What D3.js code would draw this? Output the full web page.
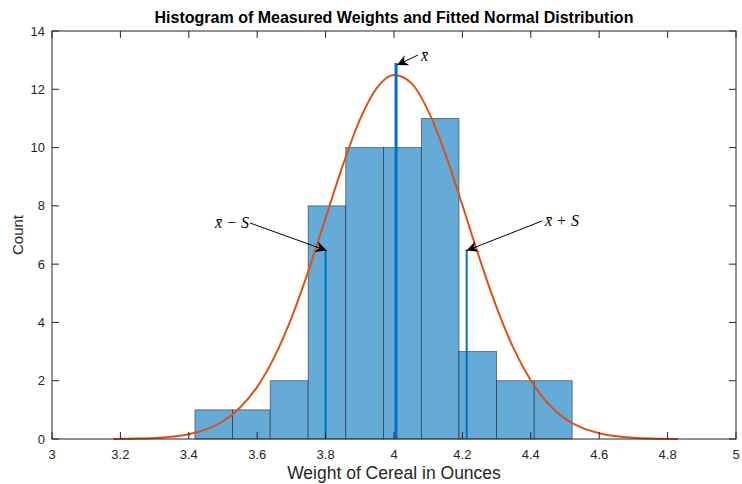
<!DOCTYPE html>
<html>
<head>
<meta charset="utf-8">
<script src="https://cdn.jsdelivr.net/npm/d3@7"></script>
<style>
  body { margin: 0; background: #fff; }
  text { font-family: "Liberation Sans", Arial, sans-serif; }
  .tex { font-family: "Liberation Serif", "DejaVu Serif", serif; font-style: italic; }
</style>
</head>
<body>
<svg id="chart" width="742" height="484"></svg>
<script>
// histogram bins (edges) and counts
var binEdges = [3.418, 3.528, 3.638, 3.749, 3.859, 3.969, 4.080, 4.190, 4.300, 4.410, 4.521];
var counts = [1, 1, 2, 8, 10, 10, 11, 3, 2, 2];

// fitted normal curve
var curveX = [3.18, 3.25, 3.30, 3.35, 3.40, 3.45, 3.50, 3.55, 3.60, 3.65, 3.70, 3.75, 3.80, 3.85, 3.90, 3.95, 4.00,
              4.05, 4.10, 4.15, 4.20, 4.25, 4.30, 4.35, 4.40, 4.45, 4.50, 4.55, 4.60, 4.65, 4.70, 4.75, 4.83];
var curveY = [0.004, 0.015, 0.035, 0.079, 0.165, 0.33, 0.61, 1.08, 1.79, 2.81, 4.15, 5.78, 7.58, 9.38, 10.95, 12.05, 12.49,
              12.22, 11.26, 9.79, 8.02, 6.20, 4.52, 3.10, 2.01, 1.22, 0.70, 0.38, 0.20, 0.094, 0.043, 0.018, 0.004];

// mean and mean +/- S lines
var meanX = 4.006, meanTop = 12.9;
var sLines = [3.800, 4.2125], sTop = 6.5;

var xTicks = [3, 3.2, 3.4, 3.6, 3.8, 4, 4.2, 4.4, 4.6, 4.8, 5];
var yTicks = [0, 2, 4, 6, 8, 10, 12, 14];

var margin = {left: 52, top: 31, right: 6, bottom: 45};
var svg = d3.select("#chart"),
  width = 742 - margin.left - margin.right,
  height = 484 - margin.top - margin.bottom;

var x = d3.scaleLinear().domain([3, 5]).range([0, width]);
var y = d3.scaleLinear().domain([0, 14]).range([height, 0]);

var g = svg.append("g").attr("transform", "translate(" + margin.left + "," + margin.top + ")");

var bins = counts.map(function(c, i) {
  return {x0: binEdges[i], x1: binEdges[i + 1], c: c};
});

// bars
g.selectAll("rect.bar")
  .data(bins)
  .enter().append("rect")
  .attr("class", "bar")
  .attr("x", function(d) { return x(d.x0); })
  .attr("y", function(d) { return y(d.c); })
  .attr("width", function(d) { return x(d.x1) - x(d.x0); })
  .attr("height", function(d) { return y(0) - y(d.c); })
  .attr("fill", "#66aad7")
  .attr("stroke", "#000")
  .attr("stroke-opacity", 0.55)
  .attr("stroke-width", 0.8);

// fitted curve
var line = d3.line()
  .x(function(d) { return x(d[0]); })
  .y(function(d) { return y(d[1]); })
  .curve(d3.curveMonotoneX);

g.append("path")
  .datum(d3.zip(curveX, curveY))
  .attr("d", line)
  .attr("fill", "none")
  .attr("stroke", "#d95319")
  .attr("stroke-width", 2);

// mean line
g.append("line")
  .attr("x1", x(meanX)).attr("x2", x(meanX))
  .attr("y1", y(0)).attr("y2", y(meanTop))
  .attr("stroke", "#0072bd")
  .attr("stroke-width", 3);

g.selectAll("line.sline")
  .data(sLines)
  .enter().append("line")
  .attr("class", "sline")
  .attr("x1", function(d) { return x(d); })
  .attr("x2", function(d) { return x(d); })
  .attr("y1", y(0)).attr("y2", y(sTop))
  .attr("stroke", "#0072bd")
  .attr("stroke-width", 2);

// axes box and ticks
var axisColor = "#262626";
g.append("rect")
  .attr("width", width).attr("height", height)
  .attr("fill", "none").attr("stroke", axisColor).attr("stroke-width", 1);

var tl = 7;
g.selectAll("line.xt")
  .data(xTicks)
  .enter().append("line")
  .attr("x1", function(d) { return x(d); }).attr("x2", function(d) { return x(d); })
  .attr("y1", height).attr("y2", height - tl)
  .attr("stroke", axisColor);
g.selectAll("line.xtt")
  .data(xTicks)
  .enter().append("line")
  .attr("x1", function(d) { return x(d); }).attr("x2", function(d) { return x(d); })
  .attr("y1", 0).attr("y2", tl)
  .attr("stroke", axisColor);
g.selectAll("line.yt")
  .data(yTicks)
  .enter().append("line")
  .attr("x1", 0).attr("x2", tl)
  .attr("y1", function(d) { return y(d); }).attr("y2", function(d) { return y(d); })
  .attr("stroke", axisColor);
g.selectAll("line.ytr")
  .data(yTicks)
  .enter().append("line")
  .attr("x1", width).attr("x2", width - tl)
  .attr("y1", function(d) { return y(d); }).attr("y2", function(d) { return y(d); })
  .attr("stroke", axisColor);

g.selectAll("text.xl")
  .data(xTicks)
  .enter().append("text")
  .attr("x", function(d) { return x(d); })
  .attr("y", height + 20)
  .attr("text-anchor", "middle")
  .attr("font-size", 13)
  .attr("fill", axisColor)
  .text(function(d) { return d3.format("~g")(d); });

g.selectAll("text.yl")
  .data(yTicks)
  .enter().append("text")
  .attr("x", -7)
  .attr("y", function(d) { return y(d) + 4.5; })
  .attr("text-anchor", "end")
  .attr("font-size", 13)
  .attr("fill", axisColor)
  .text(function(d) { return d; });

// labels
svg.append("text")
  .attr("x", margin.left + width / 2).attr("y", 23)
  .attr("text-anchor", "middle")
  .attr("font-size", 16).attr("font-weight", "bold")
  .attr("fill", "#000")
  .text("Histogram of Measured Weights and Fitted Normal Distribution");

svg.append("text")
  .attr("x", margin.left + width / 2).attr("y", 479)
  .attr("text-anchor", "middle")
  .attr("font-size", 17.5)
  .attr("fill", axisColor)
  .text("Weight of Cereal in Ounces");

svg.append("text")
  .attr("transform", "translate(23," + (margin.top + height / 2) + ") rotate(-90)")
  .attr("text-anchor", "middle")
  .attr("font-size", 15)
  .attr("fill", axisColor)
  .text("Count");

// annotations with arrows
svg.append("defs").append("marker")
  .attr("id", "head")
  .attr("viewBox", "0 0 10 10")
  .attr("refX", 10).attr("refY", 5)
  .attr("markerWidth", 11).attr("markerHeight", 11)
  .attr("markerUnits", "userSpaceOnUse")
  .attr("orient", "auto")
  .append("path")
  .attr("d", "M0,0 L10,5 L0,10 L3,5 Z")
  .attr("fill", "#000");

var notes = [
  {label: "x\u0304", tx: 418, ty: 55, hx: x(meanX) + 1, hy: y(meanTop) + 2, lx: 421, ly: 61, anchor: "start"},
  {label: "x\u0304 \u2212 S", tx: 250, ty: 223, hx: x(sLines[0]) + 1, hy: y(sTop) + 1, lx: 249, ly: 228, anchor: "end"},
  {label: "x\u0304 + S", tx: 542, ty: 221, hx: x(sLines[1]), hy: y(sTop) + 1, lx: 545, ly: 226, anchor: "start"}
];

notes.forEach(function(n) {
  g.append("line")
    .attr("x1", n.tx - margin.left).attr("y1", n.ty - margin.top)
    .attr("x2", n.hx).attr("y2", n.hy)
    .attr("stroke", "#000").attr("stroke-width", 1)
    .attr("marker-end", "url(#head)");
  svg.append("text")
    .attr("class", "tex")
    .attr("x", n.lx).attr("y", n.ly)
    .attr("text-anchor", n.anchor)
    .attr("font-size", 16)
    .attr("fill", "#000")
    .text(n.label);
});
</script>
</body>
</html>
